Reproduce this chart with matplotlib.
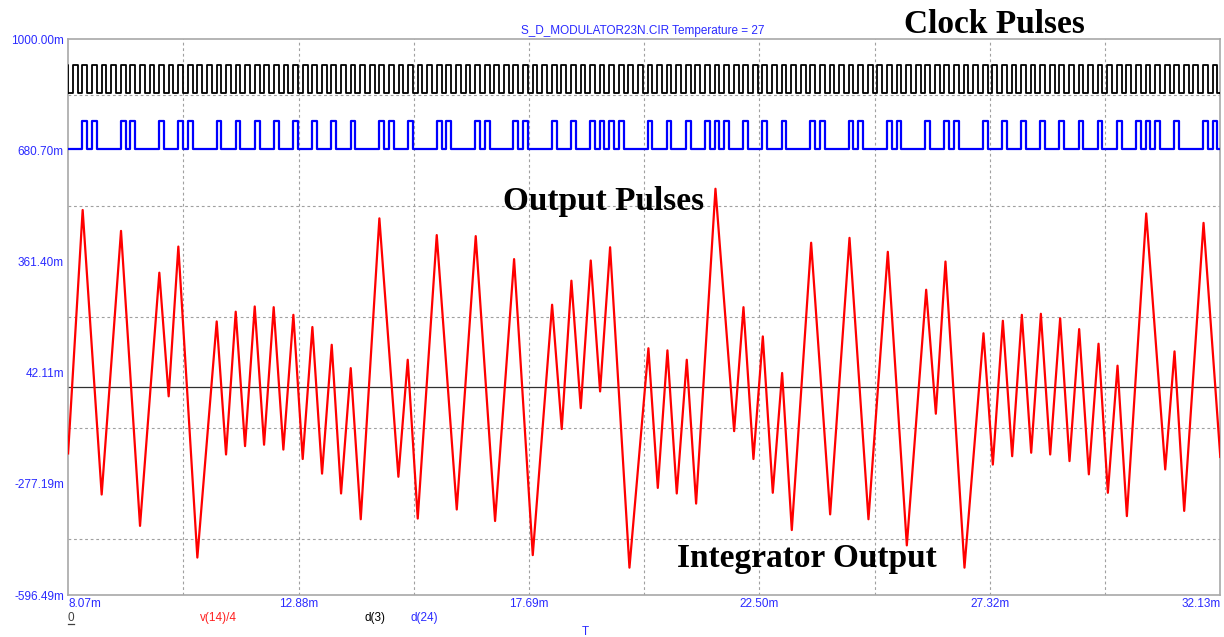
import numpy as np
import matplotlib
matplotlib.use("Agg")
import matplotlib.pyplot as plt
from matplotlib.lines import Line2D

# axis ranges (time in ms, values in mV - drawn with an "m" suffix)
t_min, t_max = 8.07, 32.13
v_min, v_max = -596.49, 1000.00
x_tick_vals = [8.07, 12.88, 17.69, 22.50, 27.32, 32.13]
x_labels = ["8.07m", "12.88m", "17.69m", "22.50m", "27.32m", "32.13m"]
y_tick_vals = [1000.00, 680.70, 361.40, 42.11, -277.19, -596.49]
y_labels = ["1000.00m", "680.70m", "361.40m", "42.11m", "-277.19m", "-596.49m"]

# clock d(3)
clock_period = 0.2
clock_first_rise = 7.97
clock_count = 122
clock_low, clock_high = 844, 925

# output pulses d(24): clock cycle index of every pulse
pulse_first = 8.17
pulse_width = 0.1
pulse_cycles = [1, 2, 5, 6, 9, 11, 12, 15, 17, 19, 21, 23, 25, 27, 29, 32, 33, 35,
                38, 39, 42, 43, 46, 47, 50, 52, 54, 55, 56, 57, 60, 62, 64, 66, 67,
                68, 70, 72, 74, 77, 78, 81, 82, 85, 86, 89, 91, 92, 95, 97, 99, 101,
                103, 105, 107, 109, 111, 112, 113, 115, 118, 119]
pulse_low, pulse_high = 684, 765

# integrator output v(14)/4, turning points
integ_t = [8.07, 8.374, 8.771, 9.175, 9.572, 9.975, 10.170, 10.372, 10.769, 11.173,
           11.368, 11.570, 11.765, 11.967, 12.162, 12.363, 12.565, 12.774, 12.969,
           13.171, 13.373, 13.575, 13.770, 13.972, 14.181, 14.570, 14.967, 15.162,
           15.371, 15.768, 16.186, 16.582, 16.986, 17.383, 17.773, 18.177, 18.378,
           18.580, 18.775, 18.984, 19.179, 19.388, 19.792, 20.188, 20.384, 20.585,
           20.780, 20.989, 21.184, 21.588, 21.978, 22.173, 22.381, 22.577, 22.785,
           22.980, 23.182, 23.586, 23.983, 24.387, 24.783, 25.187, 25.584, 25.988,
           26.190, 26.391, 26.788, 27.185, 27.380, 27.589, 27.784, 27.986, 28.181,
           28.383, 28.578, 28.786, 28.981, 29.183, 29.385, 29.587, 29.782, 29.984,
           30.179, 30.583, 30.980, 31.174, 31.376, 31.780, 32.13]
integ_v = [-190, 509, -308, 449, -398, 329, -26, 404, -489, 189, -193, 217, -169, 232,
           -165, 230, -179, 208, -206, 173, -248, 122, -305, 55, -379, 485, -257, 79,
           -377, 437, -351, 434, -384, 368, -482, 237, -120, 306, -60, 364, -12, 402,
           -518, 112, -289, 106, -305, 79, -334, 570, -126, 230, -206, 146, -303, 41,
           -410, 415, -365, 429, -379, 389, -454, 280, -76, 361, -518, 155, -222, 191,
           -198, 208, -188, 211, -193, 198, -212, 167, -250, 125, -303, 62, -370, 499,
           -236, 103, -355, 472, -200]

W, H = 1224, 637
fig = plt.figure(figsize=(W / 100, H / 100), dpi=100)
ax = fig.add_axes([68.1 / W, 1 - 595 / H, (1220.3 - 68.1) / W, (595 - 39) / H])

sans = "Liberation Sans"
serif = "Liberation Serif"
blue_txt = "#2a2aff"


def square(starts, width, low, high):
    xs, ys = [t_min], [low]
    for s in starts:
        xs += [s, s, s + width, s + width]
        ys += [low, high, high, low]
    xs.append(t_max)
    ys.append(low)
    return np.array(xs), np.array(ys)


# clock
rises = clock_first_rise + clock_period * np.arange(clock_count)
cx, cy = square(rises, clock_period / 2, clock_low, clock_high)
ax.plot(cx, cy, color="black", lw=1.3, zorder=3)

# output pulses
starts = pulse_first + clock_period * np.array(pulse_cycles)
px, py = square(starts, pulse_width, pulse_low, pulse_high)
ax.plot(px, py, color="#0000ff", lw=1.6, zorder=3)

# integrator
ax.axhline(0, color="#303030", lw=0.9, zorder=2)
ax.plot(integ_t, integ_v, color="#ff0000", lw=1.6, zorder=4)

ax.set_xlim(t_min, t_max)
ax.set_ylim(v_min, v_max)

ax.set_xticks(x_tick_vals)
ax.set_xticklabels(x_labels)
ax.set_yticks(y_tick_vals)
ax.set_yticklabels(y_labels)
ax.set_xticks(np.linspace(t_min, t_max, 11), minor=True)
ax.set_yticks(np.linspace(v_min, v_max, 11), minor=True)
ax.tick_params(which="both", length=0)
ax.tick_params(axis="y", pad=3)
ax.tick_params(axis="x", pad=2)
for lab in ax.get_xticklabels() + ax.get_yticklabels():
    lab.set_fontfamily(sans)
    lab.set_fontsize(8.5)
    lab.set_color(blue_txt)
xl = ax.get_xticklabels()
xl[0].set_ha("left")
xl[-1].set_ha("right")

ax.grid(which="minor", color="#a0a0a0", lw=0.8, linestyle=(0, (2.5, 2.5)))
ax.grid(which="major", visible=False)
for sp in ax.spines.values():
    sp.set_color("#a8a8a8")
    sp.set_linewidth(1.2)


def ftext(x, y, s, **kw):
    fig.text(x / W, 1 - y / H, s, **kw)


ftext(643, 31, "S_D_MODULATOR23N.CIR Temperature = 27", ha="center", va="center",
      fontsize=8.5, family=sans, color=blue_txt)
ftext(994, 33, "Clock Pulses", ha="center", va="baseline", fontsize=24,
      family=serif, weight="bold")
ftext(604, 210, "Output Pulses", ha="center", va="baseline", fontsize=24,
      family=serif, weight="bold")
ftext(807, 567, "Integrator Output", ha="center", va="baseline", fontsize=24,
      family=serif, weight="bold")

ftext(70.5, 618, "0", ha="center", va="center", fontsize=8.5, family=sans,
      color="#404040")
fig.add_artist(Line2D([67.5 / W, 73.5 / W], [1 - 623.5 / H, 1 - 623.5 / H],
                      color="#404040", lw=0.9))
ftext(218.5, 618, "v(14)/4", ha="center", va="center", fontsize=8.5, family=sans,
      color="#ff2020")
ftext(375, 618, "d(3)", ha="center", va="center", fontsize=8.5, family=sans,
      color="black")
ftext(424.5, 618, "d(24)", ha="center", va="center", fontsize=8.5, family=sans,
      color=blue_txt)
ftext(585, 632, "T", ha="center", va="center", fontsize=8.5, family=sans,
      color=blue_txt)

fig.savefig("out.png", dpi=100)
